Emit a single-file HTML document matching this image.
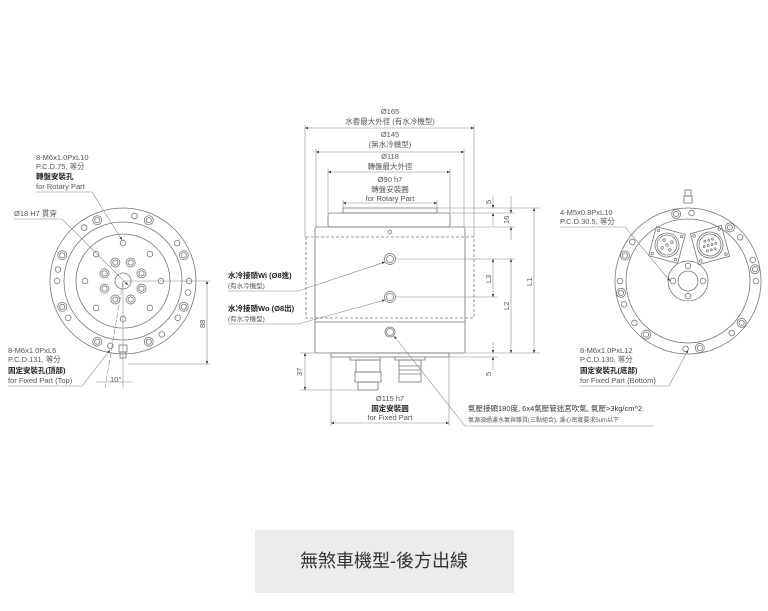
<!DOCTYPE html>
<html><head><meta charset="utf-8"><style>
html,body{margin:0;padding:0;background:#fff;}
svg{display:block;font-family:"Liberation Sans","Noto Sans CJK TC",sans-serif;}
.l{fill:none;stroke:#777;stroke-width:.8}
.t{fill:#555;font-size:7.5px}
.b{fill:#222;font-size:7.5px;font-weight:bold}
.d{stroke:#888;stroke-width:.6;fill:none}
</style></head><body>
<svg width="768" height="611" viewBox="0 0 768 611" xmlns="http://www.w3.org/2000/svg">
<defs>
<marker id="a" markerWidth="6" markerHeight="6" refX="5" refY="3" orient="auto-start-reverse"><path d="M0,1 L5,3 L0,5z" fill="#333"/></marker>
<g id="dh"><circle r="4.5" class="l"/><circle r="2.6" class="l"/></g>
<g id="sh"><circle r="2.8" class="l"/></g>
</defs>

<!-- LEFT VIEW -->
<g transform="translate(123,281)">
<circle r="73" class="l"/><circle r="59" class="l"/><circle r="47" class="l"/><circle r="8" class="l"/>
<g>
<use href="#dh" transform="rotate(-23) translate(0,-66)"/><use href="#dh" transform="rotate(23) translate(0,-66)"/>
<use href="#dh" transform="rotate(-67) translate(0,-66)"/><use href="#dh" transform="rotate(67) translate(0,-66)"/>
<use href="#dh" transform="rotate(-113) translate(0,-66)"/><use href="#dh" transform="rotate(113) translate(0,-66)"/>
<use href="#dh" transform="rotate(-157) translate(0,-66)"/><use href="#dh" transform="rotate(157) translate(0,-66)"/>
<use href="#sh" transform="rotate(-36) translate(0,-66)"/><use href="#sh" transform="rotate(10) translate(0,-66)"/>
<use href="#sh" transform="rotate(55) translate(0,-66)"/><use href="#sh" transform="rotate(-80) translate(0,-66)"/>
<use href="#sh" transform="rotate(-90) translate(0,-66)"/><use href="#sh" transform="rotate(90) translate(0,-66)"/>
<use href="#sh" transform="rotate(100) translate(0,-66)"/><use href="#sh" transform="rotate(-124) translate(0,-66)"/>
<use href="#sh" transform="rotate(124) translate(0,-66)"/><use href="#sh" transform="rotate(144) translate(0,-66)"/>
<use href="#sh" transform="rotate(191) translate(0,-66)"/>
</g>
<g>
<use href="#sh" transform="rotate(0) translate(0,-38)"/><use href="#sh" transform="rotate(45) translate(0,-38)"/>
<use href="#sh" transform="rotate(90) translate(0,-38)"/><use href="#sh" transform="rotate(135) translate(0,-38)"/>
<use href="#sh" transform="rotate(180) translate(0,-38)"/><use href="#sh" transform="rotate(225) translate(0,-38)"/>
<use href="#sh" transform="rotate(270) translate(0,-38)"/><use href="#sh" transform="rotate(315) translate(0,-38)"/>
</g>
<g>
<use href="#dh" transform="rotate(22.5) translate(0,-20)"/><use href="#dh" transform="rotate(67.5) translate(0,-20)"/>
<use href="#dh" transform="rotate(112.5) translate(0,-20)"/><use href="#dh" transform="rotate(157.5) translate(0,-20)"/>
<use href="#dh" transform="rotate(202.5) translate(0,-20)"/><use href="#dh" transform="rotate(247.5) translate(0,-20)"/>
<use href="#dh" transform="rotate(292.5) translate(0,-20)"/><use href="#dh" transform="rotate(337.5) translate(0,-20)"/>
</g>
<rect x="-4" y="64" width="8" height="7" class="l"/><rect x="-3" y="71" width="6" height="6" class="l" fill="#555"/>
</g>
<line x1="123" y1="281" x2="210" y2="281" class="d"/>
<line x1="128" y1="364" x2="210" y2="364" class="d"/>
<line x1="207" y1="281" x2="207" y2="364" class="d" marker-start="url(#a)" marker-end="url(#a)"/>
<text class="t" transform="translate(205,328) rotate(-90)">88</text>
<line x1="123" y1="281" x2="123" y2="388" class="d"/>
<line x1="123" y1="281" x2="105" y2="388" class="d" stroke-dasharray="6 2"/>
<line x1="96" y1="382" x2="132" y2="382" class="d"/>
<text class="t" x="110" y="382">10°</text>
<text class="t" x="36" y="160">8-M6x1.0PxL10</text>
<text class="t" x="36" y="169">P.C.D.75, 等分</text>
<text class="b" x="36" y="179">轉盤安裝孔</text>
<text class="t" x="36" y="189">for Rotary Part</text>
<polyline points="36,192 92,192 122,240" class="d" marker-end="url(#a)"/>
<text class="t" x="14" y="216">Ø18 H7 貫穿</text>
<polyline points="14,219 62,219 128,285" class="d" marker-end="url(#a)"/>
<text class="t" x="8" y="353">8-M6x1.0PxL6</text>
<text class="t" x="8" y="362">P.C.D.131, 等分</text>
<text class="b" x="8" y="373">固定安裝孔(頂部)</text>
<text class="t" x="8" y="383">for Fixed Part (Top)</text>
<polyline points="8,386 82,386 110,350" class="d" marker-end="url(#a)"/>

<!-- CENTER VIEW -->
<g class="l">
<rect x="343" y="208" width="94" height="5"/>
<rect x="328" y="213" width="122" height="14" rx="2"/>
<rect x="315" y="227" width="150" height="126" rx="2"/>
<rect x="306" y="237" width="168" height="81" stroke-dasharray="3 2"/>
<line x1="315" y1="322" x2="465" y2="322"/>
<circle cx="390" cy="232" r="1.8"/>
<circle cx="390" cy="259" r="5.5"/><circle cx="390" cy="259" r="3.5"/>
<circle cx="390" cy="297" r="5.5"/><circle cx="390" cy="297" r="3.5"/>
<circle cx="390" cy="332" r="5"/><circle cx="390" cy="332" r="3.5"/>
<rect x="331" y="353" width="118" height="4"/>
<path d="M350,357 v3 h30 v-3"/>
<rect x="356" y="360" width="24" height="12"/><rect x="355" y="372" width="26" height="10"/><rect x="358" y="382" width="20" height="8"/>
<path d="M395,357 v3 h30 v-3"/>
<rect x="399" y="360" width="22" height="22"/>
<line x1="399" y1="366" x2="421" y2="366"/><line x1="399" y1="370" x2="421" y2="370"/><line x1="399" y1="374" x2="421" y2="374"/>
</g>
<!-- top dims -->
<text class="t" x="390" y="114" text-anchor="middle">Ø165</text>
<text class="t" x="390" y="124" text-anchor="middle">水套最大外徑 (有水冷機型)</text>
<line x1="305" y1="128" x2="474" y2="128" class="d" marker-start="url(#a)" marker-end="url(#a)"/>
<line x1="305" y1="125" x2="305" y2="237" class="d"/><line x1="474" y1="125" x2="474" y2="237" class="d"/>
<text class="t" x="390" y="137" text-anchor="middle">Ø145</text>
<text class="t" x="390" y="147" text-anchor="middle">(無水冷機型)</text>
<line x1="316" y1="152" x2="464" y2="152" class="d" marker-start="url(#a)" marker-end="url(#a)"/>
<line x1="316" y1="149" x2="316" y2="227" class="d"/><line x1="464" y1="149" x2="464" y2="227" class="d"/>
<text class="t" x="390" y="159" text-anchor="middle">Ø118</text>
<text class="t" x="390" y="169" text-anchor="middle">轉盤最大外徑</text>
<line x1="328" y1="172" x2="450" y2="172" class="d" marker-start="url(#a)" marker-end="url(#a)"/>
<line x1="328" y1="169" x2="328" y2="213" class="d"/><line x1="450" y1="169" x2="450" y2="213" class="d"/>
<text class="t" x="390" y="182" text-anchor="middle">Ø90 h7</text>
<text class="t" x="390" y="192" text-anchor="middle">轉盤安裝圓</text>
<text class="t" x="390" y="201" text-anchor="middle">for Rotary Part</text>
<line x1="343" y1="203" x2="437" y2="203" class="d" marker-start="url(#a)" marker-end="url(#a)"/>
<line x1="343" y1="200" x2="343" y2="208" class="d"/><line x1="437" y1="200" x2="437" y2="208" class="d"/>
<!-- right dims -->
<line x1="437" y1="208" x2="540" y2="208" class="d"/>
<line x1="450" y1="213" x2="515" y2="213" class="d"/>
<line x1="465" y1="227" x2="515" y2="227" class="d"/>
<line x1="395" y1="259" x2="515" y2="259" class="d"/>
<line x1="395" y1="297" x2="498" y2="297" class="d"/>
<line x1="465" y1="353" x2="540" y2="353" class="d"/>
<line x1="449" y1="357" x2="498" y2="357" class="d"/>
<line x1="493" y1="196" x2="493" y2="208" class="d" marker-end="url(#a)"/><line x1="493" y1="225" x2="493" y2="213" class="d" marker-end="url(#a)"/>
<text class="t" transform="translate(491,204) rotate(-90)">5</text>
<line x1="511" y1="196" x2="511" y2="213" class="d" marker-end="url(#a)"/><line x1="511" y1="240" x2="511" y2="227" class="d" marker-end="url(#a)"/>
<text class="t" transform="translate(509,224) rotate(-90)">16</text>
<line x1="534" y1="208" x2="534" y2="353" class="d" marker-start="url(#a)" marker-end="url(#a)"/>
<text class="t" transform="translate(532,286) rotate(-90)">L1</text>
<line x1="511" y1="259" x2="511" y2="353" class="d" marker-start="url(#a)" marker-end="url(#a)"/>
<text class="t" transform="translate(509,310) rotate(-90)">L2</text>
<line x1="493" y1="259" x2="493" y2="297" class="d" marker-start="url(#a)" marker-end="url(#a)"/>
<text class="t" transform="translate(491,283) rotate(-90)">L3</text>
<line x1="493" y1="342" x2="493" y2="353" class="d" marker-end="url(#a)"/><line x1="493" y1="370" x2="493" y2="357" class="d" marker-end="url(#a)"/>
<text class="t" transform="translate(491,376) rotate(-90)">5</text>
<!-- 37 -->
<line x1="300" y1="353" x2="315" y2="353" class="d"/><line x1="300" y1="390" x2="358" y2="390" class="d"/>
<line x1="305" y1="353" x2="305" y2="390" class="d" marker-start="url(#a)" marker-end="url(#a)"/>
<text class="t" transform="translate(302,376) rotate(-90)">37</text>
<!-- bottom dim -->
<line x1="331" y1="357" x2="331" y2="426" class="d"/><line x1="449" y1="357" x2="449" y2="426" class="d"/>
<line x1="331" y1="423" x2="449" y2="423" class="d" marker-start="url(#a)" marker-end="url(#a)"/>
<text class="t" x="390" y="401" text-anchor="middle">Ø115 h7</text>
<text class="b" x="390" y="411" text-anchor="middle">固定安裝圓</text>
<text class="t" x="390" y="420" text-anchor="middle">for Fixed Part</text>
<!-- left labels -->
<text class="b" x="228" y="278">水冷接頭Wi (Ø8進)</text>
<text class="t" x="228" y="288" style="font-size:6.5px">(有水冷機型)</text>
<polyline points="228,291 298,291 385,262" class="d" marker-end="url(#a)"/>
<text class="b" x="228" y="311">水冷接頭Wo (Ø8出)</text>
<text class="t" x="228" y="321" style="font-size:6.5px">(有水冷機型)</text>
<polyline points="228,324 298,324 385,300" class="d" marker-end="url(#a)"/>
<!-- air label -->
<polyline points="394,336 465,426 654,426" class="d" marker-start="url(#a)"/>
<text class="b" x="468" y="411" style="font-weight:normal;fill:#333">氣壓接頭180度, 6x4氣壓管迷宮吹氣, 氣壓&gt;3kg/cm^2</text>
<text class="t" x="468" y="422" style="font-size:6px">氣源須過濾水氣與雜質(三點組合), 濾心密度要求5um以下</text>

<!-- RIGHT VIEW -->
<g transform="translate(688,281)">
<circle r="73" class="l"/><circle r="62" class="l"/><circle r="20" class="l"/><circle r="10" class="l"/>
<use href="#sh" transform="translate(0,-15)"/><use href="#sh" transform="translate(15,0)"/><use href="#sh" transform="translate(0,15)"/><use href="#sh" transform="translate(-15,0)"/>
<use href="#dh" transform="rotate(-10) translate(0,-68)"/><use href="#sh" transform="rotate(3) translate(0,-68)"/>
<use href="#dh" transform="rotate(38) translate(0,-68)"/><use href="#sh" transform="rotate(50) translate(0,-68)"/>
<use href="#dh" transform="rotate(-68) translate(0,-68)"/><use href="#sh" transform="rotate(-55) translate(0,-68)"/>
<use href="#dh" transform="rotate(80) translate(0,-68)"/><use href="#sh" transform="rotate(90) translate(0,-68)"/><use href="#sh" transform="rotate(72) translate(0,-68)"/>
<use href="#dh" transform="rotate(-100) translate(0,-68)"/><use href="#sh" transform="rotate(-90) translate(0,-68)"/><use href="#sh" transform="rotate(-110) translate(0,-68)"/>
<use href="#dh" transform="rotate(-142) translate(0,-68)"/><use href="#sh" transform="rotate(-128) translate(0,-68)"/>
<use href="#dh" transform="rotate(128) translate(0,-68)"/><use href="#sh" transform="rotate(140) translate(0,-68)"/>
<use href="#dh" transform="rotate(170) translate(0,-68)"/><use href="#sh" transform="rotate(182) translate(0,-68)"/>
<g transform="translate(-21,-36) rotate(15)" class="l"><rect x="-15" y="-15" width="30" height="30"/><circle r="12"/><circle r="10"/>
<circle cx="-12" cy="-12" r="1.3"/><circle cx="12" cy="-12" r="1.3"/><circle cx="12" cy="12" r="1.3"/><circle cx="-12" cy="12" r="1.3"/>
<circle cx="-4" cy="-4" r="1.3"/><circle cx="4" cy="-4" r="1.3"/><circle cx="-4" cy="4" r="1.3"/><circle cx="4" cy="4" r="1.3"/><circle cx="0" cy="0" r="1.3"/></g>
<g transform="translate(22,-36) rotate(-15)" class="l"><rect x="-16" y="-16" width="32" height="32"/><circle r="13"/><circle r="11"/>
<circle cx="-13" cy="-13" r="1.3"/><circle cx="13" cy="-13" r="1.3"/><circle cx="13" cy="13" r="1.3"/><circle cx="-13" cy="13" r="1.3"/>
<circle cx="-4" cy="-5" r="1"/><circle cx="0" cy="-5" r="1"/><circle cx="4" cy="-5" r="1"/><circle cx="-6" cy="0" r="1"/><circle cx="-2" cy="0" r="1"/><circle cx="2" cy="0" r="1"/><circle cx="6" cy="0" r="1"/><circle cx="-4" cy="5" r="1"/><circle cx="0" cy="5" r="1"/><circle cx="4" cy="5" r="1"/></g>
<rect x="-4" y="-85" width="8" height="7" class="l"/><rect x="-3" y="-91" width="6" height="6" class="l"/>
</g>
<text class="t" x="560" y="215">4-M5x0.8PxL10</text>
<text class="t" x="560" y="224">P.C.D.30.5, 等分</text>
<polyline points="560,227 625,227 670,281" class="d" marker-end="url(#a)"/>
<text class="t" x="580" y="353">8-M6x1.0PxL12</text>
<text class="t" x="580" y="362">P.C.D.130, 等分</text>
<text class="b" x="580" y="373">固定安裝孔(底部)</text>
<text class="t" x="580" y="383">for Fixed Part (Bottom)</text>
<polyline points="580,386 669,386 688,350" class="d" marker-end="url(#a)"/>

<!-- BANNER -->
<rect x="255" y="530" width="259" height="63" fill="#ebebeb"/>
<text x="384" y="567" text-anchor="middle" style="font-size:18px;fill:#333">無煞車機型-後方出線</text>
</svg>
</body></html>
